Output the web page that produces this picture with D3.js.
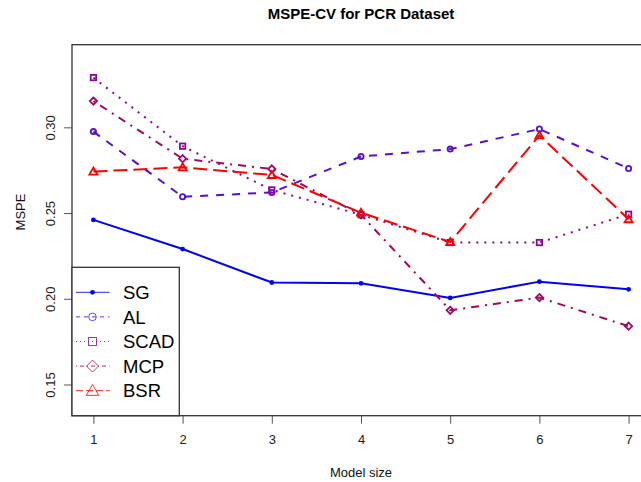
<!DOCTYPE html>
<html>
<head>
<meta charset="utf-8">
<script src="https://cdn.jsdelivr.net/npm/d3@7"></script>
<style>
  html, body { margin: 0; padding: 0; background: #fff; }
  svg { display: block; font-family: "Liberation Sans", Arial, sans-serif; }
</style>
</head>
<body>
<svg id="chart" width="641" height="482"></svg>
<script>
// ---- data ----
const modelSizes = [1, 2, 3, 4, 5, 6, 7];
const SG   = [0.246, 0.229, 0.2095, 0.209, 0.2005, 0.210, 0.2055];
const AL   = [0.2975, 0.2595, 0.262, 0.283, 0.2873, 0.299, 0.276];
const SCAD = [0.329, 0.289, 0.2635, 0.249, 0.2328, 0.2328, 0.2493];
const MCP  = [0.3153, 0.2817, 0.2757, 0.249, 0.1933, 0.2007, 0.184];
const BSR  = [0.2742, 0.2767, 0.2722, 0.2502, 0.2331, 0.2953, 0.2464];
const seriesNames = ["SG", "AL", "SCAD", "MCP", "BSR"];
const xTicks = [1, 2, 3, 4, 5, 6, 7];
const yTicks = [0.15, 0.20, 0.25, 0.30];
const yTickLabels = ["0.15", "0.20", "0.25", "0.30"];
const titleText = "MSPE-CV for PCR Dataset";
const xLabel = "Model size";
const yLabel = "MSPE";

const seriesValues = { SG, AL, SCAD, MCP, BSR };
const styles = {
  SG:   { color: "#0000ff", dash: null,          shape: "dot" },
  AL:   { color: "#5a0fd0", dash: "8,8",         shape: "circle" },
  SCAD: { color: "#8a0a98", dash: "2,6",         shape: "square" },
  MCP:  { color: "#a3085f", dash: "2,6,8,6",     shape: "diamond" },
  BSR:  { color: "#ff0000", dash: "14,6",        shape: "triangle" }
};
const legendDash = { SG: null, AL: "4,4", SCAD: "1,3", MCP: "1,3,4,3", BSR: "7,3" };

const svg = d3.select("#chart");
const L = 72, R = 650, T = 44.7, B = 415.7;

const x = d3.scaleLinear().domain([0.76, 7.24]).range([L, R]);
const y = d3.scaleLinear().domain([0.1318, 0.3482]).range([B, T]);

// title
svg.append("text").attr("x", (L + R) / 2).attr("y", 19)
  .attr("text-anchor", "middle").attr("font-weight", "bold")
  .attr("font-size", 15).attr("fill", "#000").text(titleText);

// axes
const xAxis = d3.axisBottom(x).tickValues(xTicks).tickFormat(d3.format("d"))
  .tickSize(8).tickPadding(11);
const gx = svg.append("g").attr("transform", `translate(0,${B})`).call(xAxis);
gx.select(".domain").remove();
gx.selectAll("line").attr("stroke", "#555");
gx.selectAll("text").attr("font-size", 13).attr("fill", "#222")
  .attr("font-family", "Liberation Sans, Arial, sans-serif");

const yAxis = d3.axisLeft(y).tickValues(yTicks)
  .tickFormat((d, i) => yTickLabels[i]).tickSize(8);
const gy = svg.append("g").attr("transform", `translate(${L},0)`).call(yAxis);
gy.select(".domain").remove();
gy.selectAll("line").attr("stroke", "#555");
gy.selectAll("text").attr("font-size", 13).attr("fill", "#222")
  .attr("font-family", "Liberation Sans, Arial, sans-serif")
  .attr("text-anchor", "middle")
  .attr("transform", "translate(-22,0) rotate(-90)")
  .attr("x", 0).attr("dy", "0.35em");

// axis labels
svg.append("text").attr("x", (L + R) / 2).attr("y", 477)
  .attr("text-anchor", "middle").attr("font-size", 13).attr("fill", "#111").text(xLabel);
svg.append("text").attr("transform", "translate(25,212) rotate(-90)")
  .attr("text-anchor", "middle").attr("font-size", 13).attr("fill", "#111").text(yLabel);

// plot box
svg.append("rect").attr("x", L).attr("y", T).attr("width", R - L).attr("height", B - T)
  .attr("fill", "none").attr("stroke", "#333").attr("stroke-width", 1.3);

// symbols: sizes given as half-extent in px
function drawSymbol(g, shape, cx, cy, color, h, sw) {
  if (shape === "dot") {
    g.append("circle").attr("cx", cx).attr("cy", cy).attr("r", h).attr("fill", color);
  } else if (shape === "circle") {
    g.append("circle").attr("cx", cx).attr("cy", cy).attr("r", h)
      .attr("fill", "none").attr("stroke", color).attr("stroke-width", sw);
  } else if (shape === "square") {
    g.append("rect").attr("x", cx - h).attr("y", cy - h).attr("width", 2 * h).attr("height", 2 * h)
      .attr("fill", "none").attr("stroke", color).attr("stroke-width", sw);
  } else if (shape === "diamond") {
    g.append("path").attr("d", `M${cx},${cy - h}L${cx + h},${cy}L${cx},${cy + h}L${cx - h},${cy}Z`)
      .attr("fill", "none").attr("stroke", color).attr("stroke-width", sw);
  } else if (shape === "triangle") {
    g.append("path").attr("d", `M${cx},${cy - h}L${cx + h},${cy + h * 0.75}L${cx - h},${cy + h * 0.75}Z`)
      .attr("fill", "none").attr("stroke", color).attr("stroke-width", sw);
  }
}
const plotSize = { dot: 2.4, circle: 2.6, square: 2.7, diamond: 3.6, triangle: 4 };
const legendSize = { dot: 2.4, circle: 3.8, square: 4, diamond: 6, triangle: 6.2 };

const line = d3.line().x((d, i) => x(modelSizes[i])).y(d => y(d));
seriesNames.forEach(name => {
  const st = styles[name];
  const vals = seriesValues[name];
  const g = svg.append("g");
  g.append("path").datum(vals).attr("d", line)
    .attr("fill", "none").attr("stroke", st.color).attr("stroke-width", 2)
    .attr("stroke-dasharray", st.dash);
  vals.forEach((v, i) => drawSymbol(g, st.shape, x(modelSizes[i]), y(v), st.color, plotSize[st.shape], 1.8));
});

// legend
const lg = svg.append("g");
lg.append("rect").attr("x", L).attr("y", 267.3).attr("width", 179.3 - L).attr("height", B - 267.3)
  .attr("fill", "#fff").attr("stroke", "#333").attr("stroke-width", 1.3);
const legendY = d3.scaleLinear().domain([0, 4]).range([292.3, 390.7]);
seriesNames.forEach((name, i) => {
  const st = styles[name];
  const yy = legendY(i);
  lg.append("line").attr("x1", 76).attr("x2", 109.5).attr("y1", yy).attr("y2", yy)
    .attr("stroke", st.color).attr("stroke-width", 1).attr("stroke-dasharray", legendDash[name])
    .attr("opacity", 0.85);
  const sg = lg.append("g").attr("opacity", name === "SG" ? 1 : 0.8);
  drawSymbol(sg, st.shape, 92.5, yy, st.color, legendSize[st.shape], 1);
  lg.append("text").attr("x", 123).attr("y", yy).attr("dy", "0.36em")
    .attr("font-size", 18.5).attr("fill", "#000").text(name);
});
</script>
</body>
</html>
